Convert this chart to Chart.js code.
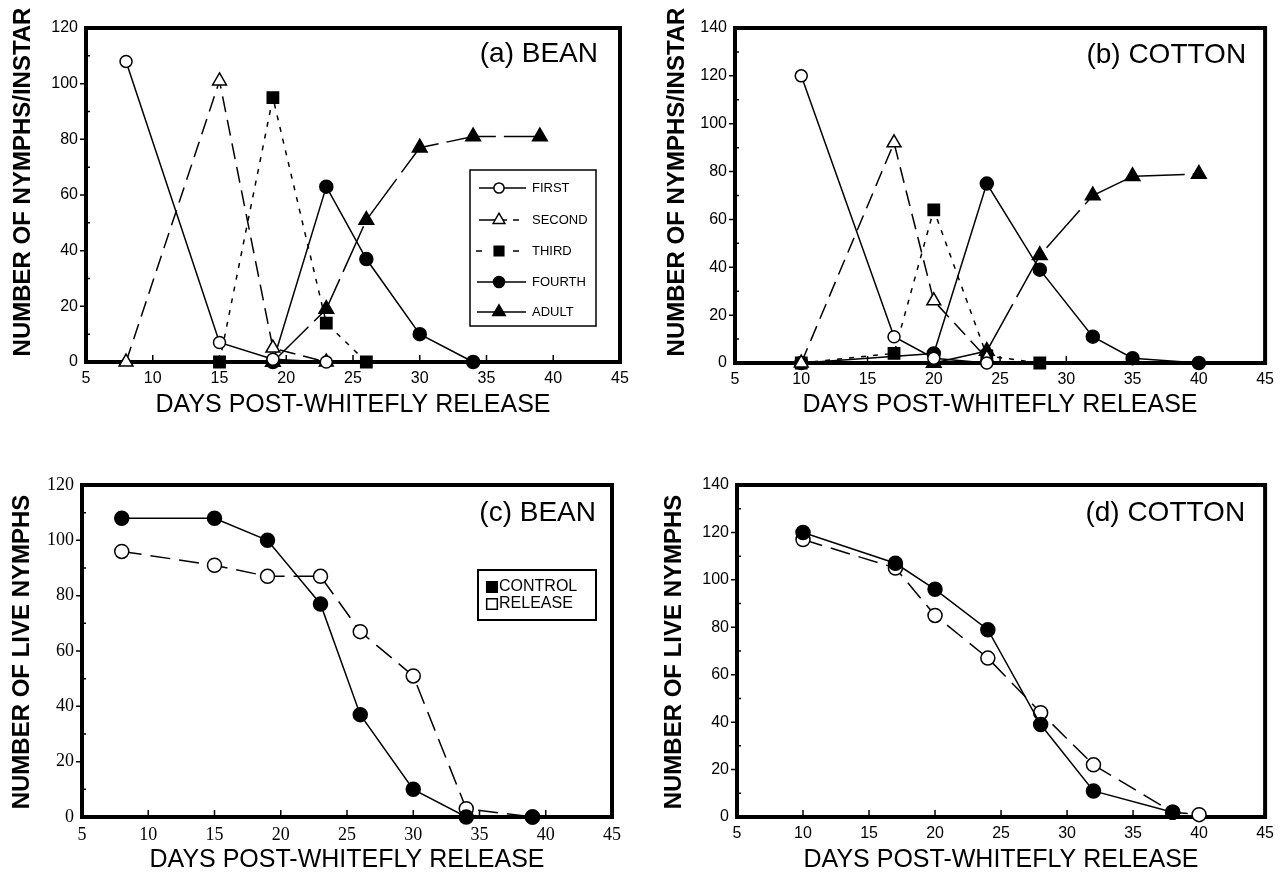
<!DOCTYPE html>
<html>
<head>
<meta charset="utf-8">
<script src="https://cdn.jsdelivr.net/npm/chart.js@4.4.0/dist/chart.umd.min.js"></script>
<style>
    html, body { margin: 0; padding: 0; background: #fff; }
    body { width: 1281px; height: 873px; position: relative; overflow: hidden; }
    canvas { position: absolute; }
</style>
</head>
<body>
<canvas id="chartA"></canvas>
<canvas id="chartB"></canvas>
<canvas id="chartC"></canvas>
<canvas id="chartD"></canvas>
<script>
// Axis ticks
const dayTicks = [5, 10, 15, 20, 25, 30, 35, 40, 45];
const beanTicks = [0, 20, 40, 60, 80, 100, 120];
const cottonTicks = [0, 20, 40, 60, 80, 100, 120, 140];

// Texts
const xTitle = 'DAYS POST-WHITEFLY RELEASE';
const instarTitle = 'NUMBER OF NYMPHS/INSTAR';
const liveTitle = 'NUMBER OF LIVE NYMPHS';
const instarNames = ['FIRST', 'SECOND', 'THIRD', 'FOURTH', 'ADULT'];
const treatmentNames = ['CONTROL', 'RELEASE'];

// (a) BEAN - nymphs per instar
const beanFirstDays = [8, 15, 19, 23];
const beanFirst = [108, 7, 1, 0];
const beanSecondDays = [8, 15, 19, 23];
const beanSecond = [0, 101, 5, 0];
const beanThirdDays = [15, 19, 23, 26];
const beanThird = [0, 95, 14, 0];
const beanFourthDays = [19, 23, 26, 30, 34];
const beanFourth = [0, 63, 37, 10, 0];
const beanAdultDays = [19, 23, 26, 30, 34, 39];
const beanAdult = [0, 19, 51, 77, 81, 81];

// (b) COTTON - nymphs per instar
const cottonFirstDays = [10, 17, 20, 24];
const cottonFirst = [120, 11, 2, 0];
const cottonSecondDays = [10, 17, 20, 24];
const cottonSecond = [0, 92, 26, 2];
const cottonThirdDays = [10, 17, 20, 24, 28];
const cottonThird = [0, 4, 64, 3, 0];
const cottonFourthDays = [10, 20, 24, 28, 32, 35, 40];
const cottonFourth = [0, 4, 75, 39, 11, 2, 0];
const cottonAdultDays = [20, 24, 28, 32, 35, 40];
const cottonAdult = [0, 5, 45, 70, 78, 79];

// (c) BEAN - live nymphs
const beanControlDays = [8, 15, 19, 23, 26, 30, 34, 39];
const beanControl = [108, 108, 100, 77, 37, 10, 0, 0];
const beanReleaseDays = [8, 15, 19, 23, 26, 30, 34, 39];
const beanRelease = [96, 91, 87, 87, 67, 51, 3, 0];

// (d) COTTON - live nymphs
const cottonControlDays = [10, 17, 20, 24, 28, 32, 38];
const cottonControl = [120, 107, 96, 79, 39, 11, 2];
const cottonReleaseDays = [10, 17, 20, 24, 28, 32, 38, 40];
const cottonRelease = [117, 105, 85, 67, 44, 22, 2, 1];

const sansFont = '"Liberation Sans", Arial, Helvetica, sans-serif';
const serifFont = '"Liberation Serif", "Times New Roman", Times, serif';

// Page layout of each panel (canvas box and plot frame, page pixels)
const layouts = {
    a: { left: 0, top: 0, w: 640, h: 435, area: { l: 86, t: 28, r: 620, b: 362 }, yTitleX: 23, yTitleY: 182, xTitleY: 405 },
    b: { left: 640, top: 0, w: 641, h: 435, area: { l: 735, t: 28, r: 1270, b: 363 }, yTitleX: 677, yTitleY: 182, xTitleY: 405 },
    c: { left: 0, top: 440, w: 640, h: 433, area: { l: 82, t: 485, r: 612, b: 817 }, yTitleX: 22, yTitleY: 652, xTitleY: 860 },
    d: { left: 640, top: 440, w: 641, h: 433, area: { l: 737, t: 485, r: 1270, b: 817 }, yTitleX: 674, yTitleY: 652, xTitleY: 860 }
};

function toPoints(days, values) {
    return days.map((d, i) => ({ x: d, y: values[i] }));
}

// Build one line series
function series(label, days, values, style) {
    return {
        label: label,
        data: toPoints(days, values),
        showLine: true,
        fill: false,
        tension: 0,
        clip: false,
        borderColor: '#000',
        borderWidth: 1.5,
        borderDash: style.dash || [],
        pointStyle: style.marker,
        pointRadius: style.radius,
        pointBackgroundColor: style.filled ? '#000' : '#fff',
        pointBorderColor: '#000',
        pointBorderWidth: 1.5
    };
}

const instarStyles = [
    { marker: 'circle', radius: 6, filled: false },
    { marker: 'triangle', radius: 8, filled: false, dash: [16, 8] },
    { marker: 'rect', radius: 8, filled: true, dash: [5, 7] },
    { marker: 'circle', radius: 6.5, filled: true },
    { marker: 'triangle', radius: 8.5, filled: true, dash: [50, 8] }
];

// Frame and inward tick marks
const framePlugin = {
    id: 'frame',
    beforeDatasetsDraw(chart) {
        const { ctx, chartArea: a, scales } = chart;
        const x = scales.x, y = scales.y;
        ctx.save();
        ctx.strokeStyle = '#000';
        ctx.lineWidth = 4;
        ctx.strokeRect(a.left, a.top, a.right - a.left, a.bottom - a.top);
        ctx.lineWidth = 1.5;
        ctx.beginPath();
        x.ticks.forEach(t => {
            if (t.value <= x.min || t.value >= x.max) return;
            const px = x.getPixelForValue(t.value);
            ctx.moveTo(px, a.bottom);
            ctx.lineTo(px, a.bottom - 7);
        });
        const step = y.ticks[1].value - y.ticks[0].value;
        y.ticks.forEach(t => {
            if (t.value > y.min && t.value < y.max) {
                const py = y.getPixelForValue(t.value);
                ctx.moveTo(a.left - 6, py);
                ctx.lineTo(a.left, py);
            }
            const half = t.value + step / 2;
            if (half < y.max) {
                const ph = y.getPixelForValue(half);
                ctx.moveTo(a.left, ph);
                ctx.lineTo(a.left + 4, ph);
            }
        });
        ctx.stroke();
        ctx.restore();
    }
};

// Panel label and axis titles
function textPlugin(lay, label, labelDx, labelDy, yTitle) {
    return {
        id: 'panelText',
        afterDraw(chart) {
            const ctx = chart.ctx, a = chart.chartArea;
            ctx.save();
            ctx.fillStyle = '#000';
            ctx.textBaseline = 'middle';
            ctx.font = '28px ' + sansFont;
            ctx.textAlign = 'right';
            ctx.fillText(label, a.right - labelDx, a.top + labelDy);
            ctx.font = '25px ' + sansFont;
            ctx.textAlign = 'center';
            ctx.fillText(xTitle, (a.left + a.right) / 2, lay.xTitleY - lay.top);
            ctx.translate(lay.yTitleX - lay.left, lay.yTitleY - lay.top);
            ctx.rotate(-Math.PI / 2);
            ctx.font = 'bold 24px ' + sansFont;
            ctx.fillText(yTitle, 0, 0);
            ctx.restore();
        }
    };
}

// Legend for the instar panel (line sample + marker + name)
function instarLegendPlugin(box) {
    return {
        id: 'instarLegend',
        afterDraw(chart) {
            const ctx = chart.ctx, a = chart.chartArea;
            const bx = a.left + box.dx, by = a.top + box.dy;
            ctx.save();
            ctx.fillStyle = '#fff';
            ctx.fillRect(bx, by, box.w, box.h);
            ctx.strokeStyle = '#000';
            ctx.lineWidth = 1.5;
            ctx.strokeRect(bx, by, box.w, box.h);
            chart.data.datasets.forEach((ds, i) => {
                const ry = by + box.rowY[i];
                ctx.strokeStyle = '#000';
                ctx.lineWidth = 1.5;
                ctx.setLineDash(box.dash[i]);
                ctx.beginPath();
                ctx.moveTo(bx + box.lineX0[i], ry);
                ctx.lineTo(bx + box.lineX1, ry);
                ctx.stroke();
                ctx.setLineDash([]);
                ctx.fillStyle = ds.pointBackgroundColor;
                Chart.helpers.drawPoint(ctx, { pointStyle: ds.pointStyle, radius: ds.pointRadius * 0.85, rotation: 0, borderWidth: 1.5 }, bx + box.markX, ry);
                ctx.fillStyle = '#000';
                ctx.font = box.font;
                ctx.textAlign = 'left';
                ctx.textBaseline = 'middle';
                ctx.fillText(ds.label, bx + box.textX, ry);
            });
            ctx.restore();
        }
    };
}

// Legend for the live nymph panel (square + name)
function squareLegendPlugin(box) {
    return {
        id: 'squareLegend',
        afterDraw(chart) {
            const ctx = chart.ctx, a = chart.chartArea;
            const bx = a.left + box.dx, by = a.top + box.dy;
            ctx.save();
            ctx.fillStyle = '#fff';
            ctx.fillRect(bx, by, box.w, box.h);
            ctx.strokeStyle = '#000';
            ctx.lineWidth = 2;
            ctx.strokeRect(bx, by, box.w, box.h);
            chart.data.datasets.forEach((ds, i) => {
                const ry = by + box.rowY[i];
                ctx.fillStyle = ds.pointBackgroundColor;
                ctx.strokeStyle = '#000';
                ctx.lineWidth = 1.5;
                Chart.helpers.drawPoint(ctx, { pointStyle: 'rect', radius: 7.5, rotation: 0, borderWidth: 1.5 }, bx + box.markX, ry);
                ctx.fillStyle = '#000';
                ctx.font = box.font;
                ctx.textAlign = 'left';
                ctx.textBaseline = 'middle';
                ctx.fillText(ds.label, bx + box.textX, ry);
            });
            ctx.restore();
        }
    };
}

function makeChart(id, lay, datasets, yTicks, tickFont, plugins) {
    const canvas = document.getElementById(id);
    canvas.width = lay.w;
    canvas.height = lay.h;
    canvas.style.left = lay.left + 'px';
    canvas.style.top = lay.top + 'px';
    canvas.style.width = lay.w + 'px';
    canvas.style.height = lay.h + 'px';
    return new Chart(canvas.getContext('2d'), {
        type: 'scatter',
        data: { datasets: datasets },
        options: {
            responsive: false,
            animation: false,
            events: [],
            layout: { padding: { left: 0, top: lay.area.t - lay.top, right: lay.left + lay.w - lay.area.r, bottom: 0 } },
            plugins: { legend: { display: false }, tooltip: { enabled: false } },
            scales: {
                x: {
                    type: 'linear',
                    min: dayTicks[0],
                    max: dayTicks[dayTicks.length - 1],
                    afterBuildTicks: s => { s.ticks = dayTicks.map(v => ({ value: v })); },
                    ticks: { color: '#000', font: tickFont, padding: 7, maxRotation: 0, autoSkip: false },
                    grid: { display: false, drawTicks: false },
                    border: { display: false },
                    afterFit: s => { s.height = lay.top + lay.h - lay.area.b; }
                },
                y: {
                    type: 'linear',
                    min: yTicks[0],
                    max: yTicks[yTicks.length - 1],
                    afterBuildTicks: s => { s.ticks = yTicks.map(v => ({ value: v })); },
                    ticks: { color: '#000', font: tickFont, padding: 8, autoSkip: false },
                    grid: { display: false, drawTicks: false },
                    border: { display: false },
                    afterFit: s => { s.width = lay.area.l - lay.left; }
                }
            }
        },
        plugins: [framePlugin].concat(plugins)
    });
}

const instarLegendBox = {
    dx: 384, dy: 142, w: 126, h: 156,
    rowY: [18, 50, 81, 112, 142],
    lineX0: [9, 9, 6, 7, 7],
    lineX1: 56,
    dash: [[], [28, 6, 6, 100], [6, 31, 6, 100], [], []],
    markX: 29,
    textX: 62,
    font: '13px ' + sansFont
};

function init() {
    const sansTicks = { family: sansFont, size: 16 };
    const serifTicks = { family: serifFont, size: 18 };

    // (a) BEAN
    makeChart('chartA', layouts.a, [
        series(instarNames[0], beanFirstDays, beanFirst, instarStyles[0]),
        series(instarNames[1], beanSecondDays, beanSecond, instarStyles[1]),
        series(instarNames[2], beanThirdDays, beanThird, instarStyles[2]),
        series(instarNames[3], beanFourthDays, beanFourth, instarStyles[3]),
        series(instarNames[4], beanAdultDays, beanAdult, instarStyles[4])
    ], beanTicks, sansTicks, [
        textPlugin(layouts.a, '(a) BEAN', 22, 26, instarTitle),
        instarLegendPlugin(instarLegendBox)
    ]);

    // (b) COTTON
    makeChart('chartB', layouts.b, [
        series(instarNames[0], cottonFirstDays, cottonFirst, instarStyles[0]),
        series(instarNames[1], cottonSecondDays, cottonSecond, instarStyles[1]),
        series(instarNames[2], cottonThirdDays, cottonThird, instarStyles[2]),
        series(instarNames[3], cottonFourthDays, cottonFourth, instarStyles[3]),
        series(instarNames[4], cottonAdultDays, cottonAdult, instarStyles[4])
    ], cottonTicks, sansTicks, [
        textPlugin(layouts.b, '(b) COTTON', 19, 27, instarTitle)
    ]);

    const controlStyle = { marker: 'circle', radius: 7, filled: true };
    const releaseStyle = { marker: 'circle', radius: 7, filled: false, dash: [20, 9] };

    // (c) BEAN live nymphs
    makeChart('chartC', layouts.c, [
        series(treatmentNames[0], beanControlDays, beanControl, controlStyle),
        series(treatmentNames[1], beanReleaseDays, beanRelease, releaseStyle)
    ], beanTicks, serifTicks, [
        textPlugin(layouts.c, '(c) BEAN', 16, 28, liveTitle),
        squareLegendPlugin({ dx: 396, dy: 85, w: 118, h: 50, rowY: [17, 34], markX: 14, textX: 21, font: '16px ' + sansFont })
    ]);

    // (d) COTTON live nymphs
    makeChart('chartD', layouts.d, [
        series(treatmentNames[0], cottonControlDays, cottonControl, controlStyle),
        series(treatmentNames[1], cottonReleaseDays, cottonRelease, releaseStyle)
    ], cottonTicks, sansTicks, [
        textPlugin(layouts.d, '(d) COTTON', 20, 28, liveTitle)
    ]);
}

if (document.readyState === 'loading') {
    document.addEventListener('DOMContentLoaded', init);
} else {
    init();
}
</script>
</body>
</html>
